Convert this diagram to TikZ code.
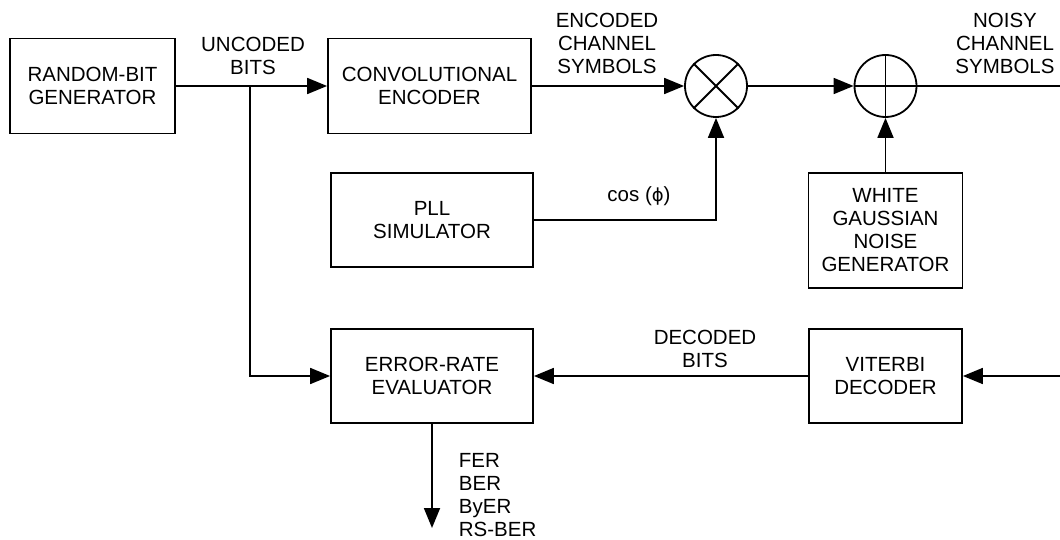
\documentclass[tikz,border=0pt]{standalone}
\usepackage{fontspec}
\setmainfont{Liberation Sans}
\newfontfamily\djv{DejaVu Sans}
\usetikzlibrary{arrows.meta}
\begin{document}
\begin{tikzpicture}[x=1pt,y=-1pt, line width=1.8pt,
  blk/.style={draw, rectangle, align=center, inner sep=0pt},
  sumnode/.style={draw, circle, minimum size=62pt, inner sep=0pt},
  lbl/.style={align=center, inner sep=0pt},
  arr/.style={-{Triangle[length=20pt,width=16pt]}},
  font=\fontsize{20.5}{23}\selectfont]
\useasboundingbox (0,0) rectangle (1060,540);
% blocks
\node[blk, minimum width=165pt, minimum height=95pt] (rng) at (92.5,86) {RANDOM-BIT\\GENERATOR};
\node[blk, minimum width=203pt, minimum height=95pt] (enc) at (429.5,86) {CONVOLUTIONAL\\ENCODER};
\node[blk, minimum width=202pt, minimum height=94pt] (pll) at (432,220) {PLL\\SIMULATOR};
\node[sumnode] (mul) at (716,86) {};
\node[sumnode] (add) at (885.5,86) {};
\node[blk, minimum width=154pt, minimum height=115pt] (awgn) at (885.5,230.5) {WHITE\\GAUSSIAN\\NOISE\\GENERATOR};
\node[blk, minimum width=202pt, minimum height=94pt] (err) at (432,376) {ERROR-RATE\\EVALUATOR};
\node[blk, minimum width=153pt, minimum height=94pt] (vit) at (885.5,376) {VITERBI\\DECODER};
% junction / free ends
\coordinate (br) at (250,86);
\coordinate (outR) at (1060,86);
\coordinate (inR) at (1060,376);
\coordinate (res) at (432,528);
% operator symbols
\draw (mul.45) -- (mul.225) (mul.135) -- (mul.315);
\draw (add.north) -- (add.south) (add.east) -- (add.west);
% connectors
\draw[arr] (rng.east) -- (enc.west);
\draw[arr] (br) |- (err.west);
\draw[arr] (enc.east) -- (mul.west);
\draw[arr] (pll.east) -| (mul.south);
\draw[arr] (mul.east) -- (add.west);
\draw (add.east) -- (outR);
\draw[arr] (awgn.north) -- (add.south);
\draw[arr] (inR) -- (vit.east);
\draw[arr] (vit.west) -- (err.east);
\draw[arr] (err.south) -- (res);
% labels
\node[lbl] (lunc) at (253,56) {UNCODED\\BITS};
\node[lbl] (lenc) at (607,43.5) {ENCODED\\CHANNEL\\SYMBOLS};
\node[lbl] (lnoisy) at (1005,43.5) {NOISY\\CHANNEL\\SYMBOLS};
\node[lbl] (lcos) at (639,196) {cos ({\djv\fontsize{18}{20}\selectfont ϕ})};
\node[lbl] (ldec) at (705,349) {DECODED\\BITS};
\node[lbl, align=left, anchor=west] (lres) at (458,495.5) {FER\\BER\\ByER\\RS-BER};
\end{tikzpicture}
\end{document}
